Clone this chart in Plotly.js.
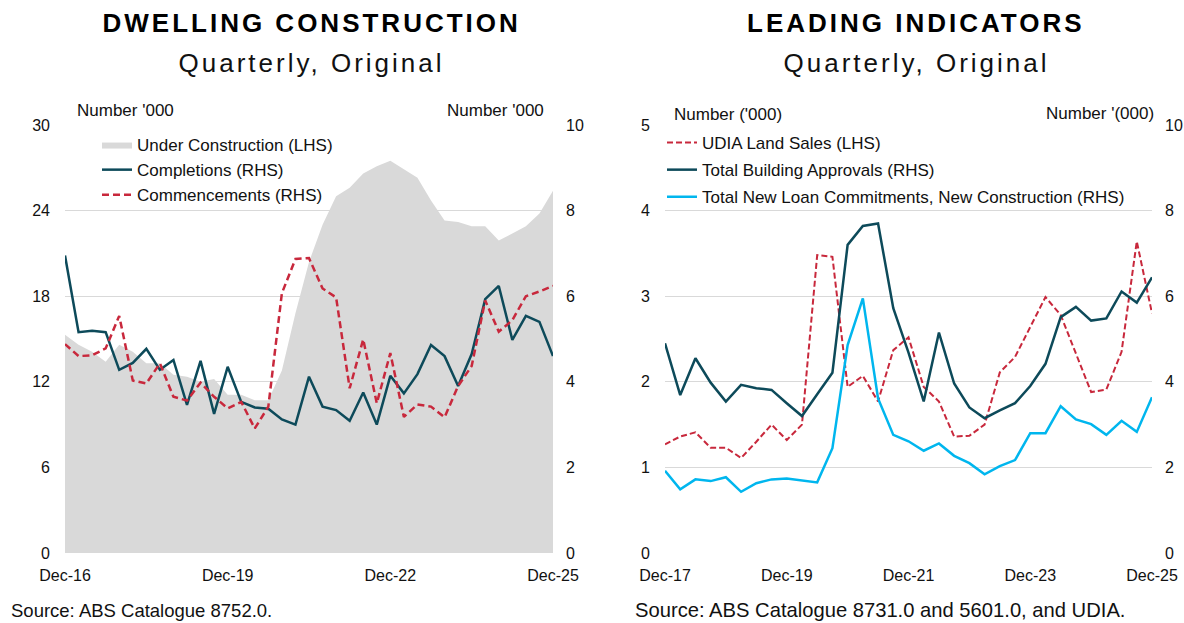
<!DOCTYPE html>
<html>
<head>
<meta charset="utf-8">
<script src="https://cdn.plot.ly/plotly-3.0.1.min.js"></script>
<style>
  html, body { margin: 0; padding: 0; background: #fff; }
  #chart { width: 1184px; height: 623px; }
</style>
</head>
<body>
<div id="chart"></div>
<script>
// ---------- Data ----------
function quarterLabels(startYear, endYear) {
  // Dec of startYear through Dec of endYear, quarterly
  var m = ['Mar', 'Jun', 'Sep', 'Dec'];
  var out = ['Dec-' + String(startYear).slice(2)];
  for (var y = startYear + 1; y <= endYear; y++) {
    for (var i = 0; i < 4; i++) out.push(m[i] + '-' + String(y).slice(2));
  }
  return out;
}

// Left chart: Dwelling construction (Dec-16 .. Dec-25)
var quartersLeft = quarterLabels(2016, 2025);
var underConstruction = [15.3, 14.6, 14.1, 13.4, 14.6, 14.1, 13.3, 13.3, 12.5, 12.35, 12.0, 12.2, 11.1, 11.1, 10.7, 10.7,
  12.8, 16.8, 20.4, 23.0, 25.0, 25.6, 26.6, 27.1, 27.5, 26.9, 26.3, 24.7, 23.3, 23.2, 22.9, 22.9, 21.9, 22.4, 22.9, 23.8, 25.4];
var completions = [6.95, 5.16, 5.19, 5.16, 4.28, 4.44, 4.77, 4.28, 4.51, 3.46, 4.49, 3.25, 4.35, 3.53, 3.40, 3.37,
  3.12, 3.00, 4.12, 3.42, 3.34, 3.09, 3.75, 3.00, 4.14, 3.73, 4.18, 4.86, 4.60, 3.90, 4.65, 5.93, 6.24, 4.98, 5.54, 5.40, 4.60];
var commencements = [4.88, 4.60, 4.62, 4.78, 5.54, 4.03, 3.96, 4.43, 3.65, 3.56, 3.98, 3.65, 3.38, 3.53, 2.91, 3.42,
  6.07, 6.87, 6.89, 6.18, 5.97, 3.85, 4.99, 3.50, 4.67, 3.18, 3.47, 3.42, 3.17, 3.90, 4.37, 5.90, 5.17, 5.44, 6.00, 6.11, 6.24];
var ticksLeft = ['Dec-16', 'Dec-19', 'Dec-22', 'Dec-25'];

// Right chart: Leading indicators (Dec-17 .. Dec-25)
var quartersRight = quarterLabels(2017, 2025);
var udiaLandSales = [1.27, 1.36, 1.41, 1.23, 1.23, 1.11, 1.30, 1.50, 1.32, 1.50, 3.48, 3.46, 1.94, 2.07, 1.77, 2.37,
  2.52, 1.94, 1.77, 1.36, 1.37, 1.50, 2.11, 2.29, 2.64, 2.99, 2.78, 2.33, 1.88, 1.91, 2.35, 3.64, 2.80];
var buildingApprovals = [4.9, 3.69, 4.55, 3.98, 3.54, 3.93, 3.85, 3.81, 3.50, 3.20, 3.71, 4.21, 7.20, 7.64, 7.70, 5.72,
  4.68, 3.54, 5.15, 3.96, 3.40, 3.15, 3.33, 3.50, 3.90, 4.42, 5.51, 5.75, 5.43, 5.48, 6.11, 5.85, 6.44];
var loanCommitments = [1.92, 1.49, 1.72, 1.68, 1.77, 1.43, 1.63, 1.72, 1.74, 1.69, 1.65, 2.45, 4.86, 5.95, 3.61, 2.76,
  2.61, 2.39, 2.56, 2.27, 2.10, 1.84, 2.03, 2.17, 2.80, 2.80, 3.43, 3.12, 3.01, 2.76, 3.09, 2.83, 3.64];
var ticksRight = ['Dec-17', 'Dec-19', 'Dec-21', 'Dec-23', 'Dec-25'];

// ---------- Styles ----------
var FONT = 'Liberation Sans, Arial, Helvetica, sans-serif';
var TEAL = '#0d4a5a';
var RED = '#c8283c';
var CYAN = '#00b6ee';
var GREYFILL = '#d9d9d9';
var GRID = '#d9d9d9';

var W = 1184, H = 623;
function px(x) { return x / W; }
function py(y) { return (H - y) / H; }

var traces = [
  { x: quartersLeft, y: underConstruction, name: 'Under Construction (LHS)', type: 'scatter', mode: 'lines',
    fill: 'tozeroy', fillcolor: GREYFILL, line: { width: 0, color: GREYFILL }, xaxis: 'x', yaxis: 'y',
    legend: 'legend', legendgroup: 'a' },
  { x: quartersLeft, y: completions, name: 'Completions (RHS)', type: 'scatter', mode: 'lines',
    line: { color: TEAL, width: 2.5 }, xaxis: 'x', yaxis: 'y2', legend: 'legend', legendgroup: 'b' },
  { x: quartersLeft, y: commencements, name: 'Commencements (RHS)', type: 'scatter', mode: 'lines',
    line: { color: RED, width: 2.5, dash: '7px,4px' }, xaxis: 'x', yaxis: 'y2', legend: 'legend', legendgroup: 'c' },

  { x: quartersRight, y: udiaLandSales, name: 'UDIA Land Sales (LHS)', type: 'scatter', mode: 'lines',
    line: { color: RED, width: 2, dash: '6px,3px' }, xaxis: 'x2', yaxis: 'y3', legend: 'legend2', legendgroup: 'd' },
  { x: quartersRight, y: buildingApprovals, name: 'Total Building Approvals (RHS)', type: 'scatter', mode: 'lines',
    line: { color: TEAL, width: 2.5 }, xaxis: 'x2', yaxis: 'y4', legend: 'legend2', legendgroup: 'e' },
  { x: quartersRight, y: loanCommitments, name: 'Total New Loan Commitments, New Construction (RHS)', type: 'scatter', mode: 'lines',
    line: { color: CYAN, width: 2.5 }, xaxis: 'x2', yaxis: 'y4', legend: 'legend2', legendgroup: 'f' }
];

var tickFont = { family: FONT, size: 16, color: '#111' };
var ydom = [py(553), py(125)];

var layout = {
  width: W, height: H,
  margin: { l: 0, r: 0, t: 0, b: 0 },
  paper_bgcolor: '#fff', plot_bgcolor: 'rgba(0,0,0,0)',
  showlegend: true,
  font: { family: FONT, color: '#111' },
  xaxis: { domain: [px(65), px(553)], type: 'category', range: [0, quartersLeft.length - 1],
    tickmode: 'array', tickvals: ticksLeft, ticktext: ticksLeft, showgrid: false, zeroline: false,
    showline: false, ticks: '', tickfont: tickFont, ticklabelstandoff: 11, anchor: 'y' },
  yaxis: { domain: ydom, range: [0, 30], tickmode: 'linear', tick0: 0, dtick: 6, showgrid: true,
    gridcolor: GRID, gridwidth: 1, zeroline: false, showline: false, ticks: '', tickfont: tickFont,
    ticklabelstandoff: 14, anchor: 'x' },
  yaxis2: { domain: ydom, range: [0, 10], tickmode: 'linear', tick0: 0, dtick: 2, overlaying: 'y',
    side: 'right', showgrid: false, zeroline: false, showline: false, ticks: '', tickfont: tickFont,
    ticklabelstandoff: 12, anchor: 'x' },

  xaxis2: { domain: [px(665), px(1152)], type: 'category', range: [0, quartersRight.length - 1],
    tickmode: 'array', tickvals: ticksRight, ticktext: ticksRight, showgrid: false, zeroline: false,
    showline: false, ticks: '', tickfont: tickFont, ticklabelstandoff: 11, anchor: 'y3' },
  yaxis3: { domain: ydom, range: [0, 5], tickmode: 'linear', tick0: 0, dtick: 1, showgrid: true,
    gridcolor: GRID, gridwidth: 1, zeroline: false, showline: false, ticks: '', tickfont: tickFont,
    ticklabelstandoff: 14, anchor: 'x2' },
  yaxis4: { domain: ydom, range: [0, 10], tickmode: 'linear', tick0: 0, dtick: 2, overlaying: 'y3',
    side: 'right', showgrid: false, zeroline: false, showline: false, ticks: '', tickfont: tickFont,
    ticklabelstandoff: 12, anchor: 'x2' },

  legend: { x: px(97), y: py(127), xanchor: 'left', yanchor: 'top', bgcolor: 'rgba(0,0,0,0)',
    font: { family: FONT, size: 17, color: '#111' }, tracegroupgap: 0, itemwidth: 30, traceorder: 'grouped' },
  legend2: { x: px(662), y: py(125), xanchor: 'left', yanchor: 'top', bgcolor: 'rgba(0,0,0,0)',
    font: { family: FONT, size: 17, color: '#111' }, tracegroupgap: 2, itemwidth: 30, traceorder: 'grouped' },

  annotations: [
    { text: '<b>DWELLING CONSTRUCTION</b>', x: px(311), y: py(23), xref: 'paper', yref: 'paper',
      xanchor: 'center', yanchor: 'middle', showarrow: false, font: { family: FONT, size: 26, color: '#000' } },
    { text: 'Quarterly, Original', x: px(311), y: py(63), xref: 'paper', yref: 'paper',
      xanchor: 'center', yanchor: 'middle', showarrow: false, font: { family: FONT, size: 26, color: '#111' } },
    { text: '<b>LEADING INDICATORS</b>', x: px(916), y: py(23), xref: 'paper', yref: 'paper',
      xanchor: 'center', yanchor: 'middle', showarrow: false, font: { family: FONT, size: 26, color: '#000' } },
    { text: 'Quarterly, Original', x: px(916), y: py(63), xref: 'paper', yref: 'paper',
      xanchor: 'center', yanchor: 'middle', showarrow: false, font: { family: FONT, size: 26, color: '#111' } },

    { text: "Number '000", x: px(75), y: py(110), xref: 'paper', yref: 'paper', xanchor: 'left', yanchor: 'middle',
      showarrow: false, font: { family: FONT, size: 17, color: '#111' } },
    { text: "Number '000", x: px(546), y: py(110), xref: 'paper', yref: 'paper', xanchor: 'right', yanchor: 'middle',
      showarrow: false, font: { family: FONT, size: 17, color: '#111' } },
    { text: "Number ('000)", x: px(672), y: py(115), xref: 'paper', yref: 'paper', xanchor: 'left', yanchor: 'middle',
      showarrow: false, font: { family: FONT, size: 17, color: '#111' } },
    { text: "Number '(000)", x: px(1156), y: py(114), xref: 'paper', yref: 'paper', xanchor: 'right', yanchor: 'middle',
      showarrow: false, font: { family: FONT, size: 17, color: '#111' } },

    { text: 'Source: ABS Catalogue 8752.0.', x: px(9), y: py(610), xref: 'paper', yref: 'paper', xanchor: 'left',
      yanchor: 'middle', showarrow: false, font: { family: FONT, size: 18.5, color: '#111' } },
    { text: 'Source: ABS Catalogue 8731.0 and 5601.0, and UDIA.', x: px(633), y: py(610), xref: 'paper', yref: 'paper',
      xanchor: 'left', yanchor: 'middle', showarrow: false, font: { family: FONT, size: 20.2, color: '#111' } }
  ]
};

Plotly.newPlot('chart', traces, layout, { staticPlot: true, displayModeBar: false }).then(function () {
  var spaced = { 'DWELLING CONSTRUCTION': 3, 'LEADING INDICATORS': 3, 'Quarterly, Original': 3 };
  document.querySelectorAll('.annotation-text').forEach(function (t) {
    var s = t.textContent;
    if (spaced[s] !== undefined) t.style.letterSpacing = spaced[s] + 'px';
  });
});
</script>
</body>
</html>
